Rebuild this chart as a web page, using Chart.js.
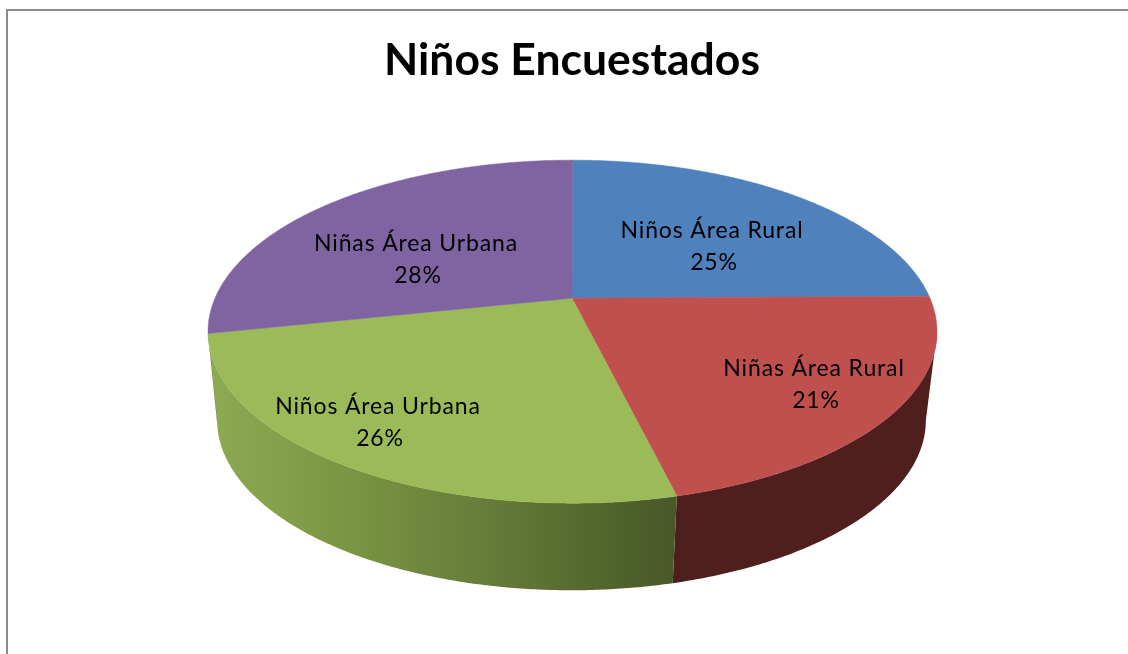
<!DOCTYPE html>
<html>
<head>
<meta charset="utf-8">
<style>html,body{margin:0;padding:0;background:#fff}canvas{display:block}</style>
<script src="https://cdn.jsdelivr.net/npm/chart.js@4/dist/chart.umd.min.js"></script>
</head>
<body>
<div style="width:1128px;height:654px"><canvas id="c"></canvas></div>
<script>
const categories = ['Niños Área Rural', 'Niñas Área Rural', 'Niños Área Urbana', 'Niñas Área Urbana'];
const values = [24.8, 21.4, 25.5, 28.3];
const topColors = ['#4f81bd', '#c0504d', '#9bbb59', '#8064a2'];
const labelCenters = [[712, 231], [814, 369], [378, 407], [416, 244]];

// Perspective of the tilted disc, relative to the pie centre
const topFace = {dx: 0.5, y0: 0, A: 357.5, B: 165, k: 0.195};
const baseFace = {dx: -0.5, y0: 89.2, A: 347.7, B: 163.7, k: 0.193};

function project(face, cx, cy, angle) {
  const u = Math.cos(angle), v = Math.sin(angle), w = 1 - face.k * v;
  return [cx + face.dx + face.A * u / w, cy + face.y0 + face.B * v / w];
}
function arcPoints(face, cx, cy, a0, a1) {
  const pts = [], n = Math.max(2, Math.ceil(Math.abs(a1 - a0) * 120));
  for (let i = 0; i <= n; i++) pts.push(project(face, cx, cy, a0 + (a1 - a0) * i / n));
  return pts;
}
function trace(ctx, pts) {
  ctx.beginPath();
  pts.forEach((p, i) => i ? ctx.lineTo(p[0], p[1]) : ctx.moveTo(p[0], p[1]));
  ctx.closePath();
}
// The rim of a slice runs between the two extreme sides of each face
function rimPoints(face, cx, cy, arc) {
  const t = Math.asin(face.k);
  return [Math.max(arc.startAngle, t), Math.min(arc.endAngle, Math.PI - t)];
}

const disc3d = {
  id: 'disc3d',
  beforeDraw(chart) {
    const ctx = chart.ctx;
    ctx.save();
    ctx.strokeStyle = '#8c8c8c';
    ctx.lineWidth = 2;
    ctx.beginPath();
    ctx.moveTo(7, 660); ctx.lineTo(7, 10); ctx.lineTo(1128, 10);
    ctx.stroke();
    ctx.restore();
  },
  beforeDatasetDraw(chart) {
    const ctx = chart.ctx, arcs = chart.getDatasetMeta(0).data;
    ctx.save();
    arcs.forEach((arc, i) => {
      if (arc.endAngle <= 0 || arc.startAngle >= Math.PI - Math.asin(topFace.k) - 0.01) return;
      const [t0, t1] = rimPoints(topFace, arc.x, arc.y, arc);
      const [b0, b1] = rimPoints(baseFace, arc.x, arc.y, arc);
      const pts = arcPoints(topFace, arc.x, arc.y, t0, t1)
        .concat(arcPoints(baseFace, arc.x, arc.y, b1, b0));
      let fill;
      if (i === 2) {
        fill = ctx.createLinearGradient(210, 0, 676, 0);
        fill.addColorStop(0, '#8cab52');
        fill.addColorStop(0.3, '#7a9543');
        fill.addColorStop(0.6, '#667b39');
        fill.addColorStop(0.85, '#52652c');
        fill.addColorStop(1, '#485829');
      } else {
        fill = '#4f1f1d';
      }
      trace(ctx, pts);
      ctx.fillStyle = fill;
      ctx.fill();
    });
    arcs.forEach((arc, i) => {
      const pts = arcPoints(topFace, arc.x, arc.y, arc.startAngle, arc.endAngle);
      pts.push([arc.x, arc.y]);
      trace(ctx, pts);
      ctx.fillStyle = topColors[i];
      ctx.strokeStyle = topColors[i];
      ctx.lineWidth = 0.5;
      ctx.fill();
      ctx.stroke();
    });
    ctx.restore();
    return false;
  },
  afterDatasetsDraw(chart) {
    const ctx = chart.ctx;
    ctx.save();
    ctx.font = '23px Lato';
    ctx.letterSpacing = '0.85px';
    ctx.fillStyle = '#000';
    ctx.textAlign = 'center';
    ctx.textBaseline = 'middle';
    categories.forEach((name, i) => {
      const [x, y] = labelCenters[i];
      ctx.fillText(name, x, y);
      ctx.fillText(Math.round(values[i]) + '%', x + 2, y + 32);
    });
    ctx.restore();
  }
};

new Chart(document.getElementById('c'), {
  type: 'pie',
  data: {
    labels: categories,
    datasets: [{data: values, backgroundColor: topColors, borderWidth: 0}]
  },
  options: {
    responsive: true,
    maintainAspectRatio: false,
    animation: false,
    events: [],
    layout: {padding: {left: 16, bottom: 158}},
    plugins: {
      legend: {display: false},
      tooltip: {enabled: false},
      title: {
        display: true,
        text: 'Niños Encuestados',
        color: '#000',
        font: {family: 'Lato', size: 44.5, weight: 'bold', lineHeight: 1.2},
        padding: {top: 34, bottom: 13}
      }
    }
  },
  plugins: [disc3d]
});
</script>
</body>
</html>
